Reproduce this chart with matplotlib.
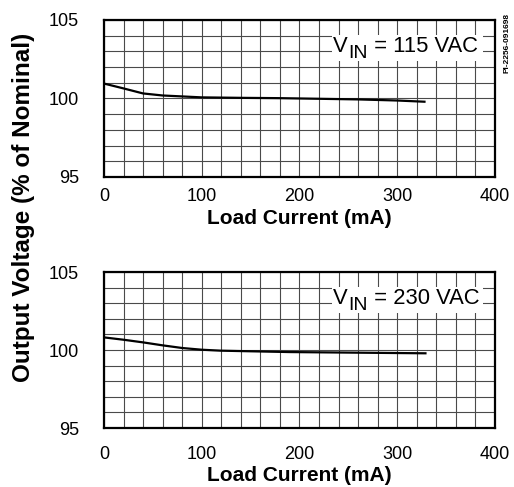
import matplotlib
matplotlib.use("Agg")
import matplotlib.pyplot as plt
from matplotlib.patches import Rectangle
from matplotlib.ticker import MultipleLocator

plt.rcParams['font.family'] = ['Liberation Sans', 'DejaVu Sans']

# load current (mA) vs output voltage (% of nominal)
load_115 = [0, 20, 40, 60, 100, 140, 180, 220, 260, 300, 329]
vout_115 = [100.95, 100.64, 100.32, 100.19, 100.07, 100.04, 100.02, 99.98, 99.94, 99.87, 99.79]

load_230 = [0, 20, 40, 60, 80, 100, 119, 150, 190, 260, 330]
vout_230 = [100.81, 100.66, 100.49, 100.3, 100.13, 100.02, 99.96, 99.92, 99.87, 99.83, 99.79]

panels = [
    (load_115, vout_115, '115'),
    (load_230, vout_230, '230'),
]
x_ticks = [0, 100, 200, 300, 400]
y_ticks = [95, 100, 105]

fig = plt.figure(figsize=(5.14, 4.87), dpi=100)
ax_pos = [
    [0.2023, 0.6366, 0.7607, 0.3224],
    [0.2023, 0.1211, 0.7607, 0.3203],
]
# tick label pad / xlabel pad differ a little between the two panels
x_pads = [(7.8, 2.9), (12.8, 2.5)]

for pos, (x, y, vin), (tpad, lpad) in zip(ax_pos, panels, x_pads):
    ax = fig.add_axes(pos)
    ax.plot(x, y, color='black', lw=1.6, solid_capstyle='butt')
    ax.set_xlim(0, 400)
    ax.set_ylim(95, 105)
    ax.set_xticks(x_ticks)
    ax.set_yticks(y_ticks)
    ax.xaxis.set_minor_locator(MultipleLocator(20))
    ax.yaxis.set_minor_locator(MultipleLocator(1))
    ax.grid(True, which='both', color='#4a4a4a', lw=0.8)
    ax.set_axisbelow(True)
    ax.tick_params(which='both', length=0, labelsize=13)
    ax.tick_params(axis='x', pad=tpad)
    ax.tick_params(axis='y', pad=18)
    for s in ax.spines.values():
        s.set_linewidth(1.6)
    ax.set_xlabel('Load Current (mA)', fontsize=15, fontweight='bold', labelpad=lpad)

    # white label box over the grid: V_IN = xxx VAC
    ax.add_patch(Rectangle((0.583, 0.738), 0.386, 0.166, transform=ax.transAxes,
                           facecolor='white', edgecolor='none', zorder=2.5))
    t1 = ax.text(0.586, 0.798, 'V', transform=ax.transAxes, ha='left',
                 va='baseline', fontsize=15.8, zorder=3)
    t2 = ax.annotate('IN', xy=(1, 0), xycoords=t1, xytext=(0.3, -3.6),
                     textcoords='offset points', ha='left', va='bottom',
                     fontsize=14, zorder=3)
    ax.annotate(' = ' + vin + ' VAC', xy=(1, 0), xycoords=t2, xytext=(0, 3.6),
                textcoords='offset points', ha='left', va='bottom',
                fontsize=15.8, zorder=3)

fig.text(0.046, 1 - 207.5 / 487, 'Output Voltage (% of Nominal)', rotation=90,
         ha='center', va='center', fontsize=17.5, fontweight='bold')
fig.text(0.986, 1 - 43 / 487, 'PI-2256-091698', rotation=90,
         ha='center', va='center', fontsize=6, fontweight='bold')

fig.savefig('out.png', dpi=100)
